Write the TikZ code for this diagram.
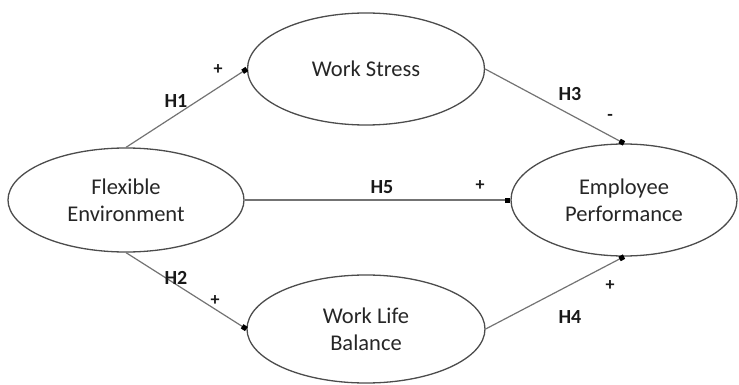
\documentclass[tikz,border=0pt]{standalone}
\usepackage{fontspec}
\setmainfont{Carlito}
\usetikzlibrary{arrows.meta,shapes.geometric}
\begin{document}
\begin{tikzpicture}[x=1pt,y=-1pt,
  construct/.style={draw=black!70,line width=1.3pt,ellipse,inner sep=0pt,
    align=center,font=\fontsize{22.5}{27}\selectfont,text=black!85},
  path/.style={draw=black!55,line width=1.2pt,-{Square[length=5pt,width=5pt,black]}},
  hyp/.style={font=\bfseries\fontsize{20}{22}\selectfont,text=black!90},
  sign/.style={font=\bfseries\fontsize{18}{20}\selectfont,text=black!90}]
\useasboundingbox (0,0) rectangle (739,385);
% latent constructs
\node[construct,minimum width=236pt,minimum height=104pt] (fe) at (126,200) {Flexible\\Environment};
\node[construct,minimum width=237pt,minimum height=112pt] (ws) at (366,69) {Work Stress};
\node[construct,minimum width=226pt,minimum height=112pt] (ep) at (624,200) {Employee\\Performance};
\node[construct,minimum width=238pt,minimum height=108pt] (wlb) at (366,329) {Work Life\\Balance};
% hypothesised paths
\draw[path] (fe.north) -- (ws.west);
\draw[path] (ws.east) -- (ep.north);
\draw[path] (fe.east) -- (ep.west);
\draw[path] (fe.south) -- (wlb.west);
\draw[path] (wlb.east) -- (ep.south);
% path labels
\node[hyp] (h1) at (176,101) {H1};
\node[sign] (s1) at (218,70) {+};
\node[hyp] (h3) at (570,94) {H3};
\node[sign] (s3) at (610,117) {-};
\node[hyp] (h5) at (382,187) {H5};
\node[sign] (s5) at (480,186) {+};
\node[hyp] (h2) at (176,278) {H2};
\node[sign] (s2) at (215,301) {+};
\node[hyp] (h4) at (570,317) {H4};
\node[sign] (s4) at (610,286) {+};
\end{tikzpicture}
\end{document}
